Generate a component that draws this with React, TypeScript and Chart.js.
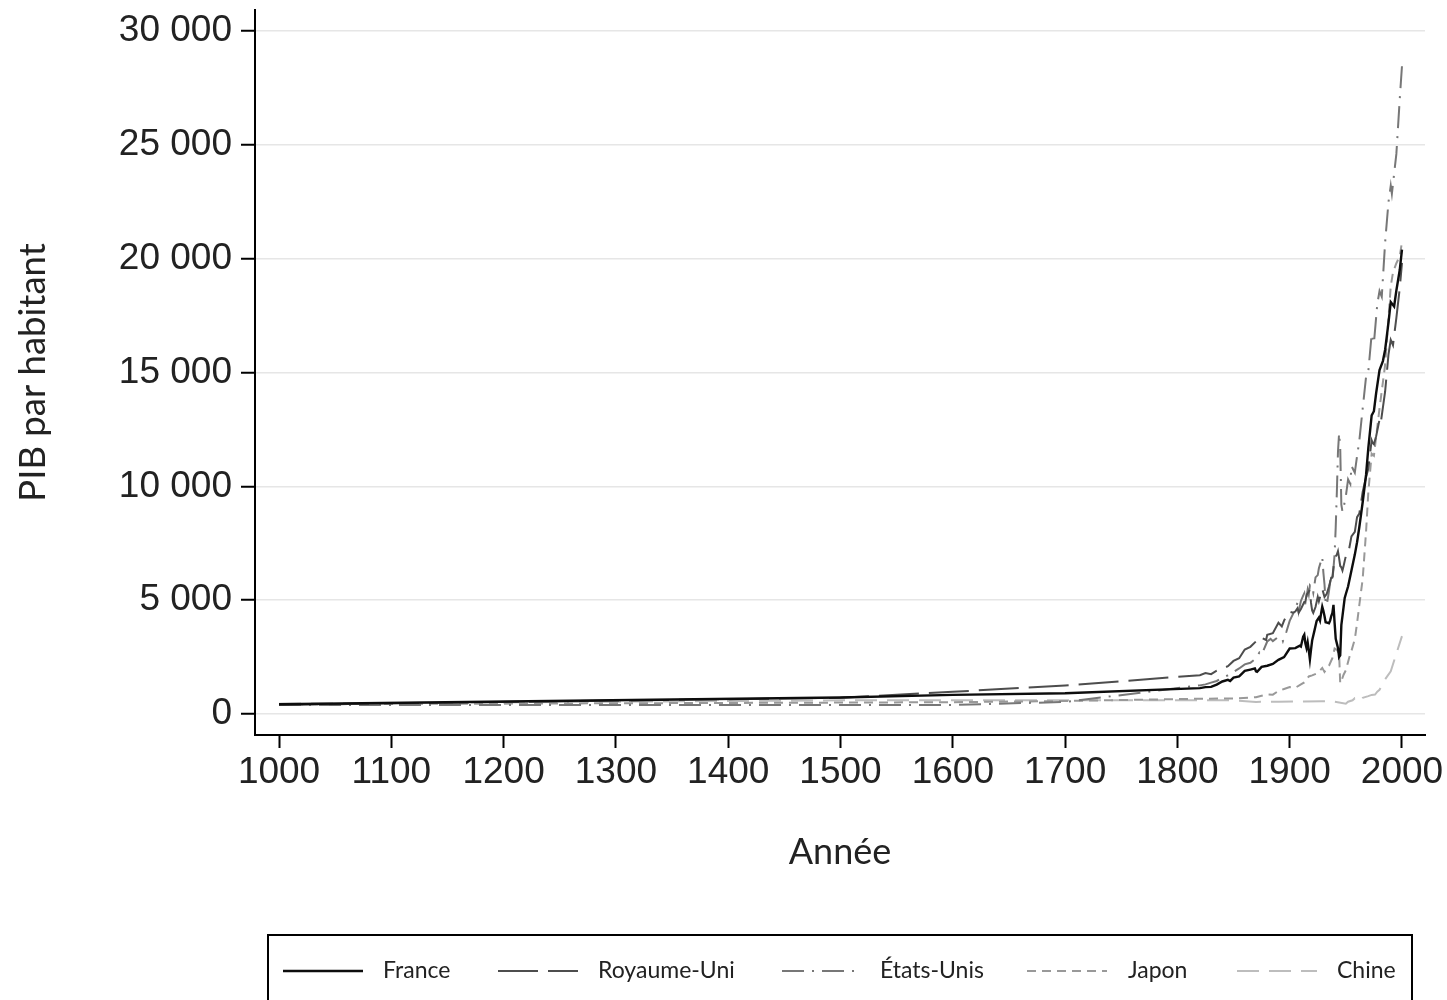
import React, { useEffect, useRef } from "react";
import { Chart, registerables } from "chart.js";

Chart.register(...registerables);

// ---------------- data (PIB par habitant) ----------------
const seriesNames = ["France", "Royaume-Uni", "États-Unis", "Japon", "Chine"];

const franceYears = [1000, 1500, 1600, 1700, 1820, 1825, 1830, 1835, 1840, 1845, 1847, 1850, 1855, 1860, 1865, 1869, 1870, 1871, 1875, 1880, 1885, 1890, 1895, 1900, 1905, 1909, 1910, 1912, 1913, 1914, 1915, 1916, 1917, 1918, 1919, 1920, 1922, 1924, 1926, 1927, 1928, 1929, 1930, 1931, 1932, 1934, 1935, 1936, 1937, 1938, 1939, 1940, 1941, 1942, 1943, 1944, 1945, 1946, 1947, 1948, 1949, 1950, 1952, 1955, 1958, 1960, 1962, 1965, 1968, 1970, 1973, 1975, 1977, 1980, 1983, 1985, 1988, 1990, 1993, 1995, 1998, 2000];
const franceValues = [425, 727, 841, 910, 1135, 1180, 1191, 1290, 1428, 1500, 1450, 1597, 1650, 1892, 1950, 2000, 1876, 1850, 2070, 2120, 2200, 2376, 2500, 2876, 2894, 3000, 2965, 3400, 3485, 3100, 2900, 3150, 2800, 2396, 2830, 3227, 3650, 4080, 4230, 4100, 4430, 4710, 4532, 4300, 4030, 4000, 3982, 4100, 4300, 4424, 4793, 4000, 3300, 3100, 2900, 2500, 2573, 3900, 4300, 4700, 5100, 5271, 5600, 6300, 7000, 7546, 8200, 9300, 10500, 11664, 13114, 13300, 14100, 15106, 15500, 16000, 17200, 18093, 17900, 18600, 19500, 20400];

const ukYears = [1000, 1500, 1600, 1700, 1820, 1825, 1830, 1835, 1840, 1845, 1850, 1855, 1860, 1865, 1870, 1873, 1875, 1879, 1880, 1885, 1890, 1893, 1895, 1899, 1900, 1903, 1905, 1907, 1908, 1910, 1913, 1914, 1915, 1916, 1917, 1918, 1919, 1920, 1921, 1923, 1925, 1926, 1929, 1931, 1933, 1935, 1937, 1938, 1940, 1942, 1943, 1944, 1945, 1946, 1947, 1948, 1950, 1952, 1955, 1958, 1960, 1962, 1965, 1968, 1970, 1973, 1974, 1975, 1977, 1980, 1981, 1985, 1988, 1990, 1992, 1995, 1998, 2000];
const ukValues = [400, 714, 974, 1250, 1706, 1800, 1749, 1900, 1990, 2100, 2330, 2450, 2830, 2950, 3190, 3400, 3350, 3250, 3477, 3550, 4009, 3850, 4100, 4500, 4492, 4450, 4500, 4650, 4450, 4611, 4921, 4927, 5233, 5300, 5380, 5459, 4877, 4548, 4439, 4700, 5144, 4950, 5503, 5138, 5277, 5600, 5983, 6000, 6856, 7000, 7150, 6850, 6500, 6440, 6300, 6500, 6939, 7000, 7800, 8000, 8645, 8800, 9752, 10400, 10767, 12025, 11900, 11847, 12200, 12931, 12750, 14165, 15800, 16430, 16200, 17400, 18700, 19817];

const usYears = [1000, 1500, 1600, 1700, 1820, 1825, 1830, 1835, 1840, 1845, 1850, 1855, 1860, 1865, 1870, 1873, 1875, 1880, 1883, 1885, 1890, 1893, 1894, 1897, 1900, 1903, 1905, 1907, 1908, 1910, 1912, 1913, 1914, 1916, 1917, 1918, 1920, 1921, 1923, 1925, 1926, 1929, 1930, 1931, 1932, 1933, 1935, 1937, 1938, 1940, 1941, 1942, 1943, 1944, 1945, 1946, 1947, 1948, 1950, 1952, 1954, 1955, 1958, 1960, 1962, 1965, 1968, 1970, 1973, 1975, 1978, 1980, 1982, 1985, 1988, 1990, 1991, 1995, 1998, 2000];
const usValues = [400, 400, 400, 527, 1257, 1300, 1376, 1450, 1588, 1700, 1849, 2000, 2178, 2250, 2445, 2700, 2599, 3184, 3300, 3200, 3392, 3350, 3200, 3600, 4091, 4400, 4600, 4900, 4500, 4964, 5200, 5301, 4800, 5459, 5250, 5659, 5552, 5323, 6000, 6100, 6400, 6899, 6213, 5691, 4908, 4777, 5400, 6130, 5800, 7010, 8206, 9741, 11518, 12333, 11709, 9197, 8886, 9065, 9561, 10300, 10100, 10897, 10600, 11328, 12000, 13419, 14800, 15030, 16689, 16284, 18000, 18577, 18325, 20717, 22500, 23201, 22849, 24600, 27000, 28467];

const japanYears = [1000, 1500, 1600, 1700, 1820, 1850, 1870, 1875, 1880, 1885, 1890, 1895, 1900, 1905, 1910, 1913, 1917, 1920, 1925, 1929, 1931, 1935, 1938, 1940, 1942, 1944, 1945, 1946, 1948, 1950, 1953, 1955, 1958, 1960, 1962, 1965, 1968, 1970, 1973, 1975, 1980, 1985, 1990, 1992, 1995, 1998, 2000];
const japanValues = [425, 500, 520, 570, 669, 681, 737, 800, 863, 850, 1012, 1100, 1180, 1150, 1304, 1387, 1650, 1696, 1800, 2026, 1850, 2120, 2449, 2874, 2818, 2659, 1346, 1444, 1725, 1921, 2474, 2771, 3289, 3986, 4777, 5934, 8000, 9714, 11434, 11344, 13428, 15331, 18789, 19400, 19800, 20100, 20738];

const chinaYears = [1000, 1500, 1600, 1700, 1820, 1850, 1870, 1890, 1913, 1929, 1938, 1950, 1952, 1956, 1958, 1960, 1962, 1965, 1970, 1973, 1976, 1978, 1980, 1985, 1990, 1995, 2000];
const chinaValues = [450, 600, 600, 600, 600, 600, 530, 540, 552, 562, 562, 448, 537, 600, 693, 662, 553, 706, 783, 838, 852, 978, 1061, 1522, 1871, 2653, 3421];

const xTicks = [1000, 1100, 1200, 1300, 1400, 1500, 1600, 1700, 1800, 1900, 2000];
const yTicks = [0, 5000, 10000, 15000, 20000, 25000, 30000];
const yTickLabels = ["0", "5 000", "10 000", "15 000", "20 000", "25 000", "30 000"];

const xTitle = "Année";
const yTitle = "PIB par habitant";

// ---------------- styles ----------------
const lineColors = ["#0d0d0d", "#4d4d4d", "#777777", "#999999", "#bdbdbd"];
const lineDashes: number[][] = [[], [40, 10], [22, 8, 2, 8], [9, 6], [22, 10]];
const lineWidths = [2.4, 2, 2, 2, 2];

const allYears = [franceYears, ukYears, usYears, japanYears, chinaYears];
const allValues = [franceValues, ukValues, usValues, japanValues, chinaValues];

const legendSampleX = [283, 498, 782, 1027, 1237];
const legendTextX = [383, 598, 880, 1128, 1337];

const boxLegendPlugin = {
  id: "boxLegend",
  afterDraw(chart: any) {
    const ctx = chart.ctx as CanvasRenderingContext2D;
    ctx.save();
    ctx.strokeStyle = "#000";
    ctx.lineWidth = 2;
    ctx.setLineDash([]);
    ctx.strokeRect(268, 935, 1144, 90);
    const cy = 971;
    seriesNames.forEach((name, i) => {
      ctx.beginPath();
      ctx.strokeStyle = lineColors[i];
      ctx.lineWidth = lineWidths[i];
      ctx.setLineDash(lineDashes[i]);
      ctx.moveTo(legendSampleX[i], cy);
      ctx.lineTo(legendSampleX[i] + 80, cy);
      ctx.stroke();
      ctx.setLineDash([]);
      ctx.fillStyle = "#222";
      ctx.font = '23px "Lato"';
      ctx.textBaseline = "middle";
      ctx.textAlign = "left";
      ctx.fillText(name, legendTextX[i], cy);
    });
    ctx.restore();
  },
};

export default function App() {
  const canvasRef = useRef<HTMLCanvasElement | null>(null);

  useEffect(() => {
    if (!canvasRef.current) return;
    const datasets = seriesNames.map((name, i) => ({
      label: name,
      data: allYears[i].map((yr, j) => ({ x: yr, y: allValues[i][j] })),
      borderColor: lineColors[i],
      backgroundColor: lineColors[i],
      borderDash: lineDashes[i],
      borderWidth: lineWidths[i],
      pointRadius: 0,
      tension: 0,
      fill: false,
    }));

    const chart = new Chart(canvasRef.current, {
      type: "line",
      data: { datasets },
      options: {
        animation: false,
        responsive: false,
        devicePixelRatio: 1,
        layout: { padding: { top: 10, right: 22, bottom: 110, left: 0 } },
        plugins: {
          legend: { display: false },
          tooltip: { enabled: false },
        },
        scales: {
          x: {
            type: "linear",
            min: 978.6,
            max: 2020.5,
            afterBuildTicks: (s: any) => {
              s.ticks = xTicks.map((v) => ({ value: v }));
            },
            afterFit: (s: any) => {
              s.height = 155;
            },
            ticks: {
              color: "#222",
              font: { family: '"Liberation Sans"', size: 37 },
              padding: 3,
              maxRotation: 0,
              autoSkip: false,
              callback: (v: any) => String(v),
            },
            grid: {
              drawOnChartArea: false,
              drawTicks: true,
              tickLength: 13,
              tickColor: "#000",
              tickWidth: 2,
            },
            border: { display: true, color: "#000", width: 2 },
            title: {
              display: true,
              text: xTitle,
              color: "#222",
              font: { family: '"Lato"', size: 36 },
              padding: { top: 0, bottom: 16 },
            },
          },
          y: {
            type: "linear",
            min: -923,
            max: 30922,
            afterBuildTicks: (s: any) => {
              s.ticks = yTicks.map((v) => ({ value: v }));
            },
            afterFit: (s: any) => {
              s.width = 255;
              s.paddingTop = 0;
              s.paddingBottom = 0;
            },
            ticks: {
              color: "#222",
              font: { family: '"Liberation Sans"', size: 37, lineHeight: 0.2 },
              padding: 9,
              autoSkip: false,
              callback: (v: any) => {
                const idx = yTicks.indexOf(Number(v));
                return idx >= 0 ? yTickLabels[idx] : "";
              },
            },
            grid: {
              drawOnChartArea: true,
              color: "#e6e6e6",
              lineWidth: 1.5,
              drawTicks: true,
              tickLength: 14,
              tickColor: "#000",
              tickWidth: 2,
            },
            border: { display: true, color: "#000", width: 2 },
            title: {
              display: true,
              text: yTitle,
              color: "#222",
              font: { family: '"Lato"', size: 36.5 },
              padding: { top: 11, bottom: 0 },
            },
          },
        },
      },
      plugins: [boxLegendPlugin],
    } as any);

    return () => chart.destroy();
  }, []);

  return (
    <div style={{ position: "fixed", left: 0, top: 0, width: 1447, height: 1000, background: "#fff" }}>
      <canvas ref={canvasRef} width={1447} height={1000} style={{ width: 1447, height: 1000, display: "block" }} />
    </div>
  );
}
